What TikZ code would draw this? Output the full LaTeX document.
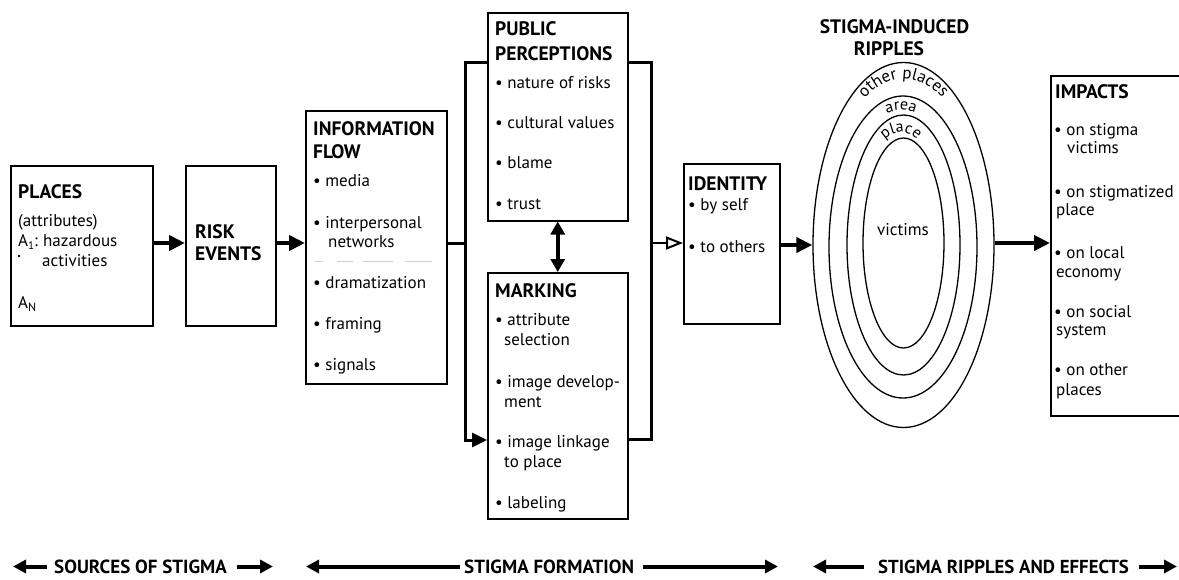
\documentclass[tikz,border=0pt]{standalone}
\usepackage{fontspec}
\setmainfont{PT Sans}
\usetikzlibrary{arrows.meta,shapes.geometric,decorations.text}
\newcommand{\hdfont}{\bfseries\fontsize{19.5}{22}\selectfont}
\newcommand{\txfont}{\fontsize{17}{20}\selectfont}
\newcommand{\crfont}{\fontsize{16}{19}\selectfont}
\newcommand{\blfont}{\bfseries\fontsize{19}{22}\selectfont}
\newcommand{\blfontb}{\bfseries\fontsize{18.8}{22}\selectfont}
\newcommand{\bul}{\textbullet\ }
\begin{document}
\begin{tikzpicture}[x=1pt,y=-1pt,
  box/.style={draw, line width=1.5pt, inner sep=0pt, anchor=north west},
  hd/.style={font=\hdfont, anchor=base west, inner sep=0pt},
  tx/.style={font=\txfont, anchor=base west, inner sep=0pt},
  bl/.style={font=\blfont, anchor=base west, inner xsep=0pt, inner ysep=0pt},
  rip/.style={draw, ellipse, line width=1.3pt, inner sep=0pt},
  tipb/.style={-{Triangle[length=16pt,width=15pt]}},
  arr/.style={line width=4pt, tipb},
  conn/.style={line width=3pt, line join=miter},
  arrsm/.style={line width=3pt, line join=miter, -{Triangle[length=15pt,width=14pt]}},
  darr/.style={line width=3.5pt, {Triangle[length=13pt,width=14pt]}-{Triangle[length=13pt,width=14pt]}},
  oarr/.style={line width=2pt, -{Triangle[open, length=17pt, width=13pt, line width=2pt]}},
  barr/.style={line width=4pt, -{Triangle[length=13pt,width=13pt]}},
  curve/.style 2 args={decorate, decoration={text along path, text align=center, text={|#1|#2}}}
]
\useasboundingbox (0,0) rectangle (1179,579);
\clip (0,0) rectangle (1179,579);

% ---------- boxes ----------
\node[box, minimum width=142pt, minimum height=160pt] (places) at (10,165) {};
\node[box, minimum width=90pt,  minimum height=160pt] (risk)   at (185,165) {};
\node[box, minimum width=141pt, minimum height=273pt] (info)   at (305,110) {};
\node[box, minimum width=140pt, minimum height=208pt] (perc)   at (487,12) {};
\node[box, minimum width=140pt, minimum height=246pt] (mark)   at (487,272) {};
\node[box, minimum width=96pt,  minimum height=160pt] (ident)  at (683,163) {};
\node[box, minimum width=140pt, minimum height=340pt] (impacts) at (1050,75) {};

% ---------- PLACES ----------
\node[hd] (plh) at (18,198) {PLACES};
\node[tx] (pl1) at (18,226) {(attributes)};
\node[tx] (pl2) at (18,246) {A\raisebox{-3pt}{\fontsize{11}{11}\selectfont 1}:};
\node[tx] (pl3) at (43,246) {hazardous};
\node[tx] (pl4) at (42,266) {activities};
\fill (19,256) circle (1.3pt);
\node[tx] (pl5) at (18,308) {A\raisebox{-3pt}{\fontsize{12}{12}\selectfont N}};

% ---------- RISK EVENTS ----------
\node[hd] (rkh1) at (195,238) {RISK};
\node[hd] (rkh2) at (195,260) {EVENTS};

% ---------- INFORMATION FLOW ----------
\node[hd] (ifh1) at (313,135) {INFORMATION};
\node[hd] (ifh2) at (313,158) {FLOW};
\node[tx] (if1) at (313,186) {\bul media};
\node[tx] (if2) at (313,228) {\bul interpersonal};
\node[tx] (if2b) at (328,247) {networks};
\draw[gray!40, line width=1pt, dash pattern=on 8pt off 14pt on 16pt off 10pt on 30pt off 12pt on 40pt off 4pt] (315,261) -- (432,261);
\node[tx] (if3) at (313,288) {\bul dramatization};
\node[tx] (if4) at (313,329) {\bul framing};
\node[tx] (if5) at (313,370) {\bul signals};

% ---------- PUBLIC PERCEPTIONS ----------
\node[hd] (pph1) at (495,35) {PUBLIC};
\node[hd] (pph2) at (495,60) {PERCEPTIONS};
\node[tx] (pp1) at (495,88) {\bul nature of risks};
\node[tx] (pp2) at (495,128) {\bul cultural values};
\node[tx] (pp3) at (495,168) {\bul blame};
\node[tx] (pp4) at (495,209) {\bul trust};

% ---------- MARKING ----------
\node[hd] (mkh) at (495,297) {MARKING};
\node[tx] (mk1) at (495,325) {\bul attribute};
\node[tx] (mk1b) at (504,345) {selection};
\node[tx] (mk2) at (495,387) {\bul image develop-};
\node[tx] (mk2b) at (504,407) {ment};
\node[tx] (mk3) at (495,447) {\bul image linkage};
\node[tx] (mk3b) at (504,467) {to place};
\node[tx] (mk4) at (495,508) {\bul labeling};

% ---------- IDENTITY ----------
\node[hd] (idh) at (688,190) {IDENTITY};
\node[tx] (id1) at (688,210) {\bul by self};
\node[tx] (id2) at (688,252) {\bul to others};

% ---------- RIPPLES ----------
\node[font=\hdfont, anchor=base, inner sep=0pt] (rph1) at (894.5,33) {STIGMA-INDUCED};
\node[font=\hdfont, anchor=base, inner sep=0pt] (rph2) at (889,55) {RIPPLES};
\node[rip, minimum width=181pt, minimum height=365pt] (ripples) at (903.5,245) {};
\node[rip, minimum width=148pt, minimum height=302pt] (r2) at (903,247) {};
\node[rip, minimum width=113pt, minimum height=260pt] (r3) at (903.5,245) {};
\node[rip, minimum width=81pt,  minimum height=210pt] (r4) at (903.5,243) {};
\node[font=\txfont, inner sep=0pt] (vict) at (903,230) {victims};
\begin{scope}[shift={(903.5,245)}]
\path[curve={\txfont}{other places}] plot[domain=200:340, samples=29] ({84*cos(\x)},{166*sin(\x)});
\path[curve={\crfont}{area}] plot[domain=210:330, samples=25] ({-2.5+62*cos(\x)},{135*sin(\x)});
\path[curve={\crfont}{place}] plot[domain=210:330, samples=25] ({-2.5+46*cos(\x)},{113*sin(\x)});
\end{scope}

% ---------- IMPACTS ----------
\node[hd] (imh) at (1055,98) {IMPACTS};
\node[tx] (im1) at (1054,135) {\bul on stigma};
\node[tx] (im1b) at (1067,153) {victims};
\node[tx] (im2) at (1054,197) {\bul on stigmatized};
\node[tx] (im2b) at (1056,215) {place};
\node[tx] (im3) at (1054,258) {\bul on local};
\node[tx] (im3b) at (1056,277) {economy};
\node[tx] (im4) at (1054,317) {\bul on social};
\node[tx] (im4b) at (1056,335) {system};
\node[tx] (im5) at (1054,375) {\bul on other};
\node[tx] (im5b) at (1056,395) {places};

% ---------- connectors ----------
\coordinate (jL)  at (465,243);
\coordinate (jLt) at (465,62);
\coordinate (jLb) at (465,440);
\coordinate (jR)  at (651,243);
\coordinate (jRt) at (651,62);
\coordinate (jRb) at (651,439);

\draw[arr] (places.east |- 0,243) -- (risk.west |- 0,243);
\draw[arr] (risk.east |- 0,243) -- (info.west |- 0,243);
\draw[conn] (jL -| info.east) -- (jL);
\draw[arrsm] (jLt -| perc.west) -- (jLt) -- (jLb) -- (jLb -| mark.west);
\draw[conn] (jRt -| perc.east) -- (jRt) -- (jRb) -- (jRb -| mark.east);
\draw[oarr] (jR) -- (jR -| ident.west);
\draw[darr] (perc.south) -- (mark.north);
\draw[arr] (ident.east |- 0,245) -- (ripples.west);
\draw[arr] (ripples.east |- 0,243) -- (impacts.west |- 0,243);

% ---------- bottom labels ----------
\node[bl] (src) at (54,573) {SOURCES OF STIGMA};
\node[bl] (form) at (464,573) {STIGMA FORMATION};
\node[bl, font=\blfontb] (eff) at (878,573) {STIGMA RIPPLES AND EFFECTS};
\coordinate (srcL) at (13,566.5);
\coordinate (srcR) at (273,566.5);
\coordinate (formL) at (306,566.5);
\coordinate (formR) at (778,566.5);
\coordinate (effL) at (813,566.5);
\coordinate (effR) at (1177,566.5);
\draw[barr] ([xshift=-7pt]src.west |- srcL) -- (srcL);
\draw[barr] ([xshift=10pt]src.east |- srcR) -- (srcR);
\draw[barr] ([xshift=-4pt]form.west |- formL) -- (formL);
\draw[barr] ([xshift=9pt]form.east |- formR) -- (formR);
\draw[barr] ([xshift=-14pt]eff.west |- effL) -- (effL);
\draw[barr] ([xshift=10pt]eff.east |- effR) -- (effR);
\end{tikzpicture}
\end{document}
